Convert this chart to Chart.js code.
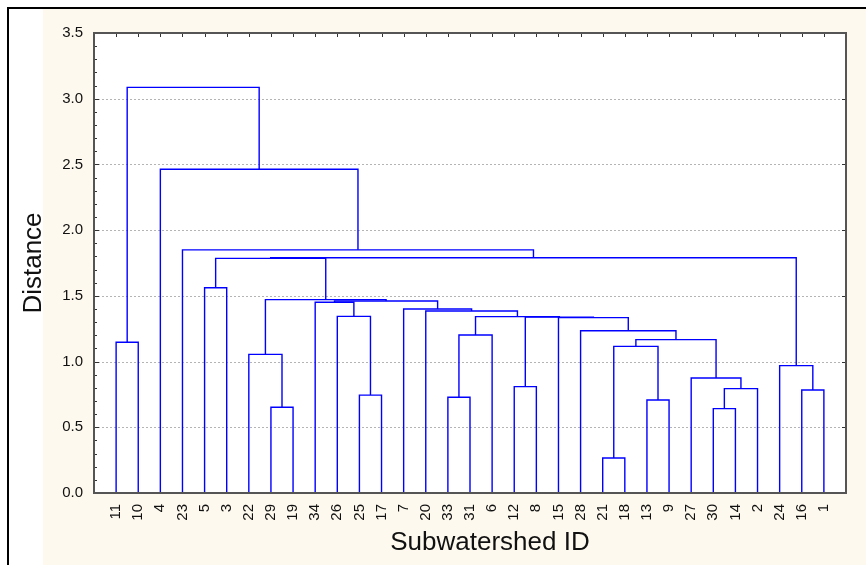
<!DOCTYPE html>
<html>
<head>
<meta charset="utf-8">
<script src="https://cdn.jsdelivr.net/npm/chart.js@4/dist/chart.umd.min.js"></script>
<style>
  body { margin: 0; background: #fff; }
  #wrap { position: relative; width: 866px; height: 565px; overflow: hidden; }
  #frame { position: absolute; left: 7px; top: 7px; right: -10px; bottom: -10px;
           border-top: 2px solid #000; border-left: 2px solid #000; background: #fff; }
  #panel { position: absolute; left: 43px; top: 9px; right: 0; bottom: 0; background: #fdf9ee; }
  canvas { position: absolute; left: 0; top: 0; }
</style>
</head>
<body>
<div id="wrap">
  <div id="frame"></div>
  <div id="panel"></div>
  <canvas id="chart" width="866" height="565"></canvas>
</div>
<script>
// leaves in the order they appear along the x axis
const leafOrder = ["11", "10", "4", "23", "5", "3", "22", "29", "19", "34", "26", "25", "17",
  "7", "20", "33", "31", "6", "12", "8", "15", "28", "21", "18", "13", "9", "27", "30", "14",
  "2", "24", "16", "1"];

// merge k creates cluster "c" + (k + 1); members are leaf IDs or earlier clusters
const mergeLeft = ["21", "30", "29", "13", "33", "25", "16", "c2", "12", "27", "24", "22",
  "c1", "11", "c13", "c5", "28", "15", "c9", "c16", "26", "20", "7", "34", "c24", "c12",
  "5", "c27", "c28", "23", "4", "c14"];
const mergeRight = ["18", "14", "19", "9", "31", "17", "1", "2", "8", "c8", "c7", "c3",
  "c4", "10", "c10", "6", "c15", "c17", "c18", "c19", "c6", "c20", "c22", "c21", "c23", "c25",
  "3", "c26", "c11", "c29", "c30", "c31"];
const mergeDistance = [0.266, 0.642, 0.652, 0.708, 0.728, 0.745, 0.784, 0.794, 0.809, 0.875,
  0.969, 1.055, 1.116, 1.147, 1.167, 1.202, 1.235, 1.334, 1.338, 1.342, 1.344, 1.385, 1.400,
  1.451, 1.461, 1.471, 1.562, 1.785, 1.790, 1.850, 2.463, 3.086];

const yTicks = [0, 0.5, 1.0, 1.5, 2.0, 2.5, 3.0, 3.5];

const FONT = 'Arial, "Liberation Sans", sans-serif';
const LINE = "#0000ff";

// position of every leaf / cluster: leaves sit at 1..n, a cluster between its two members
const pos = {};
leafOrder.forEach((id, i) => { pos[id] = { x: i + 1, y: 0 }; });

const datasets = mergeDistance.map((h, k) => {
  const a = pos[mergeLeft[k]];
  const b = pos[mergeRight[k]];
  pos["c" + (k + 1)] = { x: (a.x + b.x) / 2, y: h };
  return {
    data: [{ x: a.x, y: a.y }, { x: a.x, y: h }, { x: b.x, y: h }, { x: b.x, y: b.y }],
    showLine: true,
    borderColor: LINE,
    borderWidth: 1.4,
    pointRadius: 0,
    tension: 0,
  };
});

// white plot area, dotted grid, frame and inner tick marks
const plotDecor = {
  id: "plotDecor",
  beforeDatasetsDraw(chart) {
    const { ctx, chartArea: a, scales } = chart;
    ctx.save();
    ctx.fillStyle = "#fff";
    ctx.fillRect(a.left, a.top, a.right - a.left, a.bottom - a.top);
    ctx.strokeStyle = "#b4b4b4";
    ctx.lineWidth = 1;
    ctx.setLineDash([2, 2]);
    yTicks.slice(1, -1).forEach((v) => {
      const y = Math.round(scales.y.getPixelForValue(v)) + 0.5;
      ctx.beginPath();
      ctx.moveTo(a.left, y);
      ctx.lineTo(a.right, y);
      ctx.stroke();
    });
    ctx.restore();
  },
  afterDatasetsDraw(chart) {
    const { ctx, chartArea: a, scales } = chart;
    ctx.save();
    ctx.strokeStyle = "#333";
    ctx.lineWidth = 1;
    ctx.beginPath();
    for (let v = 0; v <= 35; v++) {
      const y = Math.round(scales.y.getPixelForValue(v / 10)) + 0.5;
      ctx.moveTo(a.left, y);
      ctx.lineTo(a.left + (v % 5 === 0 ? 5 : 3), y);
    }
    yTicks.forEach((v) => {
      const y = Math.round(scales.y.getPixelForValue(v)) + 0.5;
      ctx.moveTo(a.right, y);
      ctx.lineTo(a.right - 4, y);
    });
    leafOrder.forEach((_, i) => {
      const x = Math.round(scales.x.getPixelForValue(i + 1)) + 0.5;
      ctx.moveTo(x, a.top);
      ctx.lineTo(x, a.top + 4);
    });
    ctx.stroke();
    ctx.strokeStyle = "#555";
    ctx.lineWidth = 2;
    ctx.strokeRect(a.left, a.top, a.right - a.left, a.bottom - a.top);
    ctx.restore();
  },
  afterDraw(chart) {
    const { ctx, chartArea: a } = chart;
    ctx.save();
    ctx.fillStyle = "#111";
    ctx.font = "26px " + FONT;
    ctx.textAlign = "center";
    ctx.textBaseline = "alphabetic";
    ctx.fillText("Subwatershed ID", (a.left + a.right) / 2 + 20, 550);
    ctx.translate(41, (a.top + a.bottom) / 2);
    ctx.rotate(-Math.PI / 2);
    ctx.fillText("Distance", 0, 0);
    ctx.restore();
  },
};

new Chart(document.getElementById("chart"), {
  type: "scatter",
  data: { datasets },
  plugins: [plotDecor],
  options: {
    responsive: false,
    animation: false,
    layout: { padding: { top: 33, right: 20, left: 0, bottom: 0 } },
    plugins: { legend: { display: false }, tooltip: { enabled: false } },
    scales: {
      x: {
        type: "linear",
        min: 0,
        max: leafOrder.length + 1,
        afterFit: (s) => { s.height = 72; },
        afterBuildTicks: (s) => { s.ticks = leafOrder.map((_, i) => ({ value: i + 1 })); },
        ticks: {
          autoSkip: false,
          minRotation: 90,
          maxRotation: 90,
          padding: 11,
          color: "#111",
          font: { family: FONT, size: 15 },
          callback: (v) => leafOrder[v - 1],
        },
        grid: { display: false, drawTicks: false },
        border: { display: false },
      },
      y: {
        min: 0,
        max: 3.5,
        afterFit: (s) => { s.width = 94; },
        afterBuildTicks: (s) => { s.ticks = yTicks.map((v) => ({ value: v })); },
        ticks: {
          padding: 11,
          color: "#111",
          font: { family: FONT, size: 15 },
          callback: (v) => v.toFixed(1),
        },
        grid: { display: false, drawTicks: false },
        border: { display: false },
      },
    },
  },
});
</script>
</body>
</html>
